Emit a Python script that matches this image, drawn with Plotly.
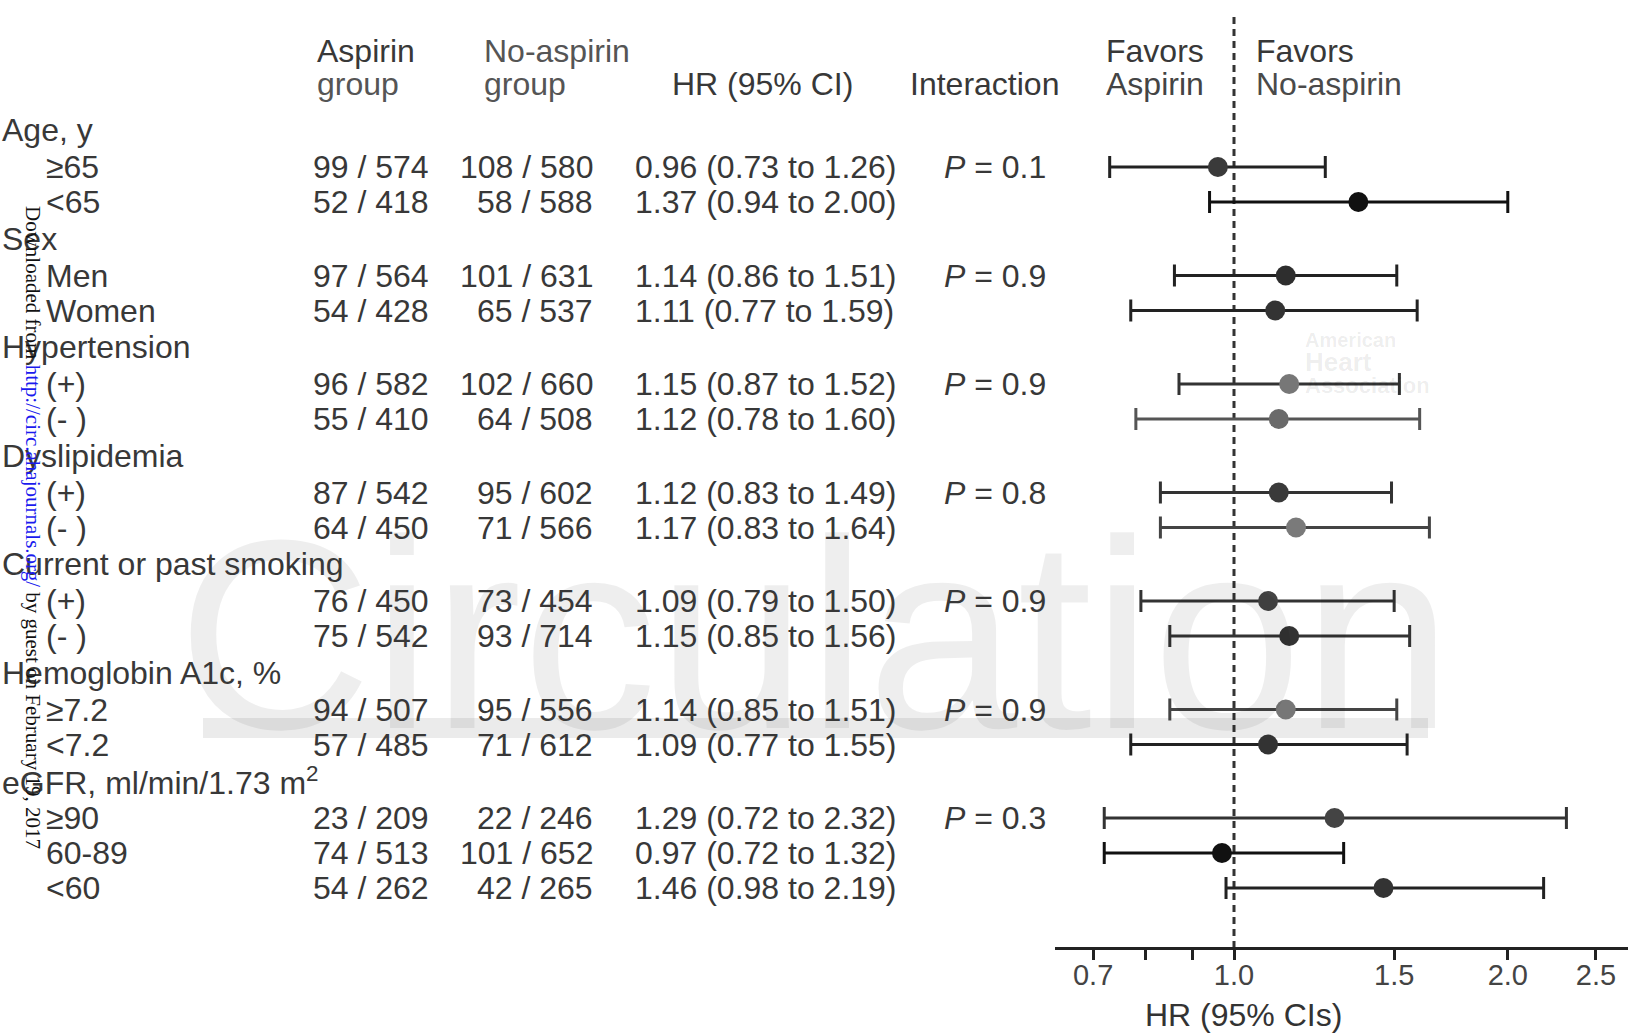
import math
import plotly.graph_objects as go

# ---------------- data ----------------
group_labels = ["Age, y", "Sex", "Hypertension", "Dyslipidemia",
                "Current or past smoking", "Hemoglobin A1c, %",
                "eGFR, ml/min/1.73 m<sup>2</sup>"]
subgroup_labels = [["≥65", "<65"], ["Men", "Women"], ["(+)", "(- )"],
                   ["(+)", "(- )"], ["(+)", "(- )"], ["≥7.2", "<7.2"],
                   ["≥90", "60-89", "<60"]]
aspirin_events = [99, 52, 97, 54, 96, 55, 87, 64, 76, 75, 94, 57, 23, 74, 54]
aspirin_n = [574, 418, 564, 428, 582, 410, 542, 450, 450, 542, 507, 485, 209, 513, 262]
noasp_events = [108, 58, 101, 65, 102, 64, 95, 71, 73, 93, 95, 71, 22, 101, 42]
noasp_n = [580, 588, 631, 537, 660, 508, 602, 566, 454, 714, 556, 612, 246, 652, 265]
hr = [0.96, 1.37, 1.14, 1.11, 1.15, 1.12, 1.12, 1.17, 1.09, 1.15, 1.14, 1.09, 1.29, 0.97, 1.46]
ci_low = [0.73, 0.94, 0.86, 0.77, 0.87, 0.78, 0.83, 0.83, 0.79, 0.85, 0.85, 0.77, 0.72, 0.72, 0.98]
ci_high = [1.26, 2.00, 1.51, 1.59, 1.52, 1.60, 1.49, 1.64, 1.50, 1.56, 1.51, 1.55, 2.32, 1.32, 2.19]
p_interaction = ["0.1", "0.9", "0.9", "0.8", "0.9", "0.9", "0.3"]
tick_vals = [0.7, 1.0, 1.5, 2.0, 2.5]
tick_text = ["0.7", "1.0", "1.5", "2.0", "2.5"]
minor_tick_vals = [0.8, 0.9]

# ---------------- styles / layout constants ----------------
W, H = 1628, 1035
PLOT_H = 947
FONT = "Liberation Sans, Arial, sans-serif"
FS = 32
TXT = "#383838"
point_colors = ["#3a3a3a", "#111111", "#2e2e2e", "#333333", "#777777", "#6a6a6a",
                "#3a3a3a", "#7a7a7a", "#444444", "#333333", "#777777", "#333333",
                "#444444", "#111111", "#333333"]
bar_colors = ["#222222", "#111111", "#222222", "#222222", "#333333", "#555555",
              "#333333", "#444444", "#333333", "#333333", "#444444", "#222222",
              "#333333", "#111111", "#222222"]

X0_PX = 1234.0       # pixel of HR = 1
PX_PER_DEC = 909.5   # pixels per decade
AX_LEFT = 1055.0


def px_to_log(px):
    return (px - X0_PX) / PX_PER_DEC


# row positions (pixel-like y units, top = 0)
header_y, row_y = [], []
for g, subs in enumerate(subgroup_labels):
    hy = 130 + g * 108.5
    header_y.append(hy)
    for k in range(len(subs)):
        row_y.append(hy + 37 + k * 35)

fig = go.Figure()

# reference line at HR = 1
fig.add_trace(go.Scatter(
    x=[1, 1], y=[17, PLOT_H], mode="lines",
    line=dict(color="#333333", width=3, dash="7px,5px"),
    hoverinfo="skip", cliponaxis=False))

# CIs and points
for i in range(len(hr)):
    fig.add_trace(go.Scatter(
        x=[hr[i]], y=[row_y[i]], mode="markers",
        marker=dict(size=20, color=point_colors[i]),
        error_x=dict(type="data", symmetric=False,
                     array=[ci_high[i] - hr[i]], arrayminus=[hr[i] - ci_low[i]],
                     color=bar_colors[i], thickness=3, width=11),
        hoverinfo="skip"))

ann = []

# watermarks (semi-transparent so marks below stay dark)
ann.append(dict(x=815 / W, y=634, xref="paper", yref="y", text="Circulation",
                showarrow=False, xanchor="center", yanchor="middle",
                font=dict(family=FONT, size=270, color="rgba(0,0,0,0.068)")))
for t, yy, sz in [("<b>American</b>", 340, 20), ("<b>Heart</b>", 362, 26),
                  ("<b>Association</b>", 385, 22)]:
    ann.append(dict(x=1303 / W, y=yy, xref="paper", yref="y", text=t,
                    showarrow=False, xanchor="left", yanchor="middle",
                    font=dict(family=FONT, size=sz, color="rgba(0,0,0,0.08)")))


def add_text(x, y, text, xanchor="left", size=FS, color=TXT):
    ann.append(dict(x=x / W, y=y, xref="paper", yref="y", text=text,
                    showarrow=False, xanchor=xanchor, yanchor="middle",
                    font=dict(family=FONT, size=size, color=color)))


# column headers
add_text(315, 51, "Aspirin")
add_text(315, 84, "group", color="#555555")
add_text(482, 51, "No-aspirin", color="#555555")
add_text(482, 84, "group", color="#555555")
add_text(762, 84, "HR (95% CI)", xanchor="center")
add_text(908, 84, "Interaction")
add_text(1104, 51, "Favors")
add_text(1104, 84, "Aspirin", color="#444444")
add_text(1254, 51, "Favors")
add_text(1254, 84, "No-aspirin", color="#4a4a4a")

# table body
idx = 0
for g, subs in enumerate(subgroup_labels):
    add_text(0, header_y[g], group_labels[g])
    for k, s in enumerate(subs):
        y = row_y[idx]
        add_text(44, y, s)
        add_text(431, y, f"{aspirin_events[idx]} / {aspirin_n[idx]}", xanchor="right")
        add_text(595, y, f"{noasp_events[idx]} / {noasp_n[idx]}", xanchor="right")
        add_text(633, y, f"{hr[idx]:.2f} ({ci_low[idx]:.2f} to {ci_high[idx]:.2f})")
        if k == 0:
            add_text(942, y, f"<i>P</i> = {p_interaction[g]}")
        idx += 1

# axis title
ann.append(dict(x=1243 / W, y=1 - 1015 / PLOT_H, xref="paper", yref="paper",
                text="HR (95% CIs)", showarrow=False, xanchor="center",
                yanchor="middle", font=dict(family=FONT, size=FS, color="#333333")))

# vertical "Downloaded" stamp
ann.append(dict(x=33 / W, y=527, xref="paper", yref="y", textangle=90,
                text="Downloaded from <span style='color:#1a1aee'>http://circ.ahajournals.org/</span>"
                     " by guest on February 19, 2017",
                showarrow=False, xanchor="center", yanchor="middle",
                font=dict(family="Liberation Serif, Times New Roman, serif", size=21,
                          color="#111111")))

fig.update_layout(
    width=W, height=H,
    margin=dict(l=0, r=0, t=0, b=H - PLOT_H, pad=0),
    paper_bgcolor="white", plot_bgcolor="white",
    showlegend=False,
    annotations=ann,
    shapes=[dict(type="rect", xref="paper", yref="y", layer="below",
                 x0=203 / W, x1=1428 / W, y0=718, y1=738,
                 fillcolor="#ebebeb", line=dict(width=0))],
    xaxis=dict(type="log", domain=[AX_LEFT / W, 1],
               range=[px_to_log(AX_LEFT), px_to_log(W)],
               tickvals=tick_vals, ticktext=tick_text,
               ticks="outside", ticklen=10, tickwidth=3, tickcolor="#222222",
               ticklabelstandoff=-10,
               showline=True, linewidth=3, linecolor="#222222",
               showgrid=False, zeroline=False,
               tickfont=dict(family=FONT, size=29, color="#444444"),
               minor=dict(tickvals=minor_tick_vals, ticks="outside", ticklen=10,
                          tickwidth=3, tickcolor="#222222", showgrid=False)),
    yaxis=dict(range=[PLOT_H, 0], visible=False, showgrid=False, zeroline=False),
)

fig.write_html("out.html", config={"displayModeBar": False},
               post_script="document.body.style.margin='0';document.body.style.overflow='hidden';")
